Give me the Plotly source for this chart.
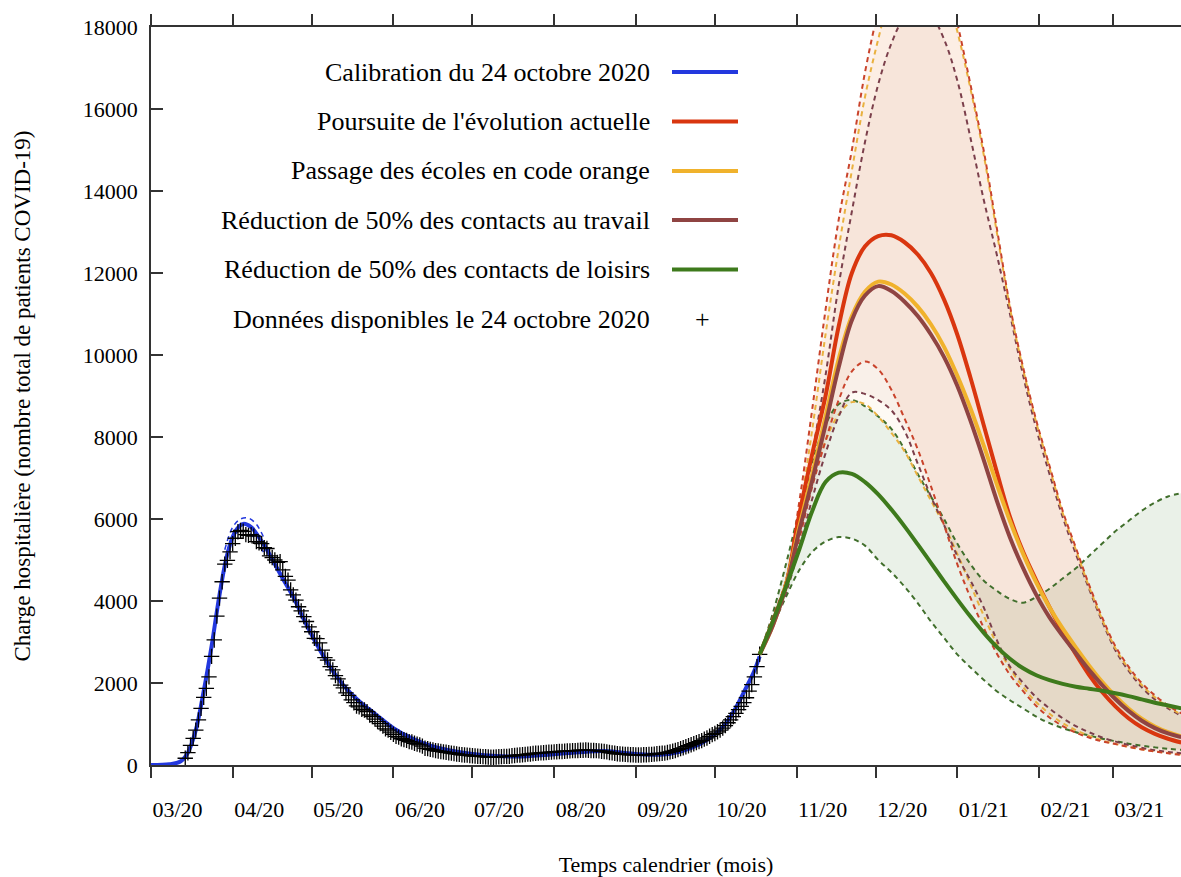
import pandas as pd
import plotly.graph_objects as go

# ---------------- data ----------------
# Observed hospital load (daily, from 2020-03-14)
obs_start = "2020-03-14"
obs_values = [
    165, 300, 480, 650, 850, 1100, 1380, 1650, 1870, 2150,
    2650, 3050, 3630, 4070, 4470, 4900, 4990, 5200, 5400, 5530,
    5690, 5720, 5700, 5620, 5600, 5620, 5580, 5450, 5420, 5400,
    5300, 5280, 5100, 5060, 5000, 4940, 4960, 4760, 4600, 4510,
    4270, 4150, 4020, 3860, 3760, 3620, 3500, 3370, 3250, 3090,
    3080, 2980, 2800, 2620, 2560, 2400, 2320, 2180, 2100, 1950,
    1880, 1760, 1700, 1590, 1520, 1440, 1420, 1360, 1340, 1300,
    1220, 1180, 1120, 1060, 1010, 950, 880, 850, 800, 750,
    700, 680, 640, 620, 600, 570, 560, 530, 510, 490,
    460, 410, 400, 380, 370, 350, 340, 330, 320, 310,
    300, 290, 280, 270, 260, 250, 245, 240, 230, 225,
    220, 215, 210, 205, 200, 195, 190, 190, 195, 200,
    205, 210, 210, 215, 225, 230, 240, 245, 250, 255,
    265, 270, 280, 285, 290, 295, 300, 305, 310, 315,
    320, 325, 330, 330, 335, 340, 345, 350, 350, 355,
    360, 360, 365, 360, 355, 355, 350, 345, 335, 330,
    320, 305, 295, 285, 275, 270, 265, 260, 255, 250,
    250, 245, 245, 245, 250, 250, 255, 260, 265, 275,
    280, 285,
    290, 305, 320, 335, 355, 375, 400, 420, 445, 470,
    495, 520, 545, 570, 595, 630, 660, 700, 740, 770,
    810, 850, 900, 960, 1030, 1100, 1180, 1260, 1350, 1430,
    1520, 1640, 1800, 1960, 2150, 2400, 2700,
]

# Calibrated model (blue)
calib_dates = ["2020-03-01", "2020-03-08", "2020-03-12", "2020-03-15", "2020-03-18",
               "2020-03-21", "2020-03-24", "2020-03-27", "2020-03-30", "2020-04-02",
               "2020-04-05", "2020-04-08", "2020-04-11", "2020-04-14", "2020-04-17",
               "2020-04-20", "2020-04-24", "2020-04-28", "2020-05-02", "2020-05-06",
               "2020-05-10", "2020-05-15", "2020-05-20", "2020-05-25", "2020-06-01",
               "2020-06-08", "2020-06-15", "2020-06-22", "2020-07-01", "2020-07-10",
               "2020-07-20", "2020-08-01", "2020-08-10", "2020-08-20", "2020-09-01",
               "2020-09-10", "2020-09-18", "2020-09-25", "2020-10-01", "2020-10-05",
               "2020-10-09", "2020-10-13", "2020-10-16", "2020-10-18"]
calib_values = [0, 20, 80, 300, 850,
                1800, 2900, 4150, 5150, 5700,
                5880, 5800, 5550, 5250, 4900,
                4550, 4100, 3550, 3050, 2600,
                2200, 1800, 1500, 1250, 900,
                650, 470, 360, 270, 220,
                210, 260, 310, 340, 270,
                250, 330, 500, 750, 1000,
                1400, 1900, 2300, 2650]
calib_band_dates = ["2020-03-29", "2020-04-01", "2020-04-04", "2020-04-07", "2020-04-10", "2020-04-13"]
calib_hi = [5250, 5800, 6000, 6020, 5870, 5520]
calib_lo = [5000, 5550, 5720, 5660, 5480, 5150]

# Scenario projections (every 5 days from 2020-10-18)
fc_start = "2020-10-18"
red_mid = [2700, 3500, 4400, 6100, 7600, 9000, 10700, 12000, 12650, 12900,
           12920, 12750, 12450, 12000, 11350, 10500, 9450, 8300, 7150, 6050,
           5200, 4500, 3850, 3250, 2700, 2200, 1780, 1430, 1140, 920,
           760, 640, 550]
red_hi = [2700, 3600, 4500, 6400, 8700, 11100, 13300, 15000, 16900, 18400,
          19600, 20300, 20500, 20200, 19400, 18100, 16600, 15000, 13100, 11200,
          9700, 8400, 7300, 6200, 5300, 4400, 3600, 2900, 2400, 2000,
          1700, 1450, 1260]
red_lo = [2700, 3400, 4300, 5500, 6800, 7900, 8900, 9600, 9840, 9650,
          9150, 8450, 7700, 6800, 5850, 4900, 4080, 3350, 2720, 2200,
          1800, 1440, 1160, 950, 790, 670, 580, 510, 440, 380,
          330, 285, 245]
yellow_mid = [2700, 3400, 4400, 5800, 7100, 8500, 9900, 10950, 11550, 11790,
              11720, 11500, 11180, 10750, 10200, 9500, 8700, 7800, 6850, 5950,
              5150, 4450, 3850, 3330, 2870, 2430, 2030, 1680, 1380, 1130,
              940, 800, 700]
yellow_hi = [2700, 3550, 4400, 6100, 8200, 10500, 12600, 14500, 16300, 17700,
             18900, 19700, 20000, 19800, 19100, 17900, 16500, 14900, 13000, 11150,
             9650, 8350, 7250, 6150, 5250, 4350, 3550, 2850, 2350, 1950,
             1650, 1420, 1230]
yellow_lo = [2700, 3500, 4500, 5700, 6900, 7900, 8550, 8850, 8800, 8500,
             8100, 7650, 7050, 6450, 5850, 5150, 4400, 3650, 2950, 2350,
             1900, 1530, 1250, 1020, 850, 710, 600, 515, 445, 385,
             335, 295, 255]
brown_mid = [2700, 3400, 4350, 5700, 6950, 8300, 9700, 10850, 11450, 11680,
             11560, 11300, 10950, 10500, 9950, 9250, 8400, 7450, 6450, 5550,
             4800, 4150, 3600, 3150, 2730, 2320, 1950, 1610, 1320, 1080,
             900, 770, 680]
brown_hi = [2700, 3400, 4300, 5700, 7600, 9500, 11700, 13500, 15200, 16600,
            17600, 18250, 18500, 18300, 17700, 16700, 15300, 13800, 12450, 11000,
            9500, 8200, 7100, 6050, 5150, 4300, 3500, 2800, 2300, 1900,
            1600, 1380, 1200]
brown_lo = [2700, 3400, 4200, 5300, 6500, 7600, 8500, 9080, 9050, 8900,
            8650, 8150, 7350, 6550, 5850, 5100, 4500, 3850, 3050, 2400,
            2000, 1650, 1380, 1140, 950, 800, 670, 570, 490, 420,
            360, 320, 285]
green_mid = [2700, 3500, 4350, 5250, 6200, 6900, 7130, 7100, 6900, 6600,
             6230, 5820, 5380, 4930, 4480, 4040, 3620, 3230, 2880, 2590,
             2360, 2190, 2070, 1980, 1910, 1860, 1810, 1750, 1680, 1600,
             1520, 1450, 1380]
green_hi = [2700, 3700, 4900, 6200, 7400, 8300, 8800, 8900, 8750, 8500,
            8200, 7700, 7100, 6550, 6000, 5400, 4900, 4500, 4250, 4050,
            3960, 4100, 4300, 4550, 4800, 5100, 5400, 5700, 5950, 6200,
            6400, 6550, 6630]
green_lo = [2700, 3400, 4100, 4750, 5200, 5450, 5560, 5520, 5350, 5000,
            4700, 4350, 3950, 3500, 3100, 2700, 2380, 2080, 1800, 1580,
            1380, 1180, 1020, 900, 800, 720, 640, 580, 520, 470,
            430, 395, 370]

legend_labels = ["Calibration du 24 octobre 2020",
                 "Poursuite de l'évolution actuelle",
                 "Passage des écoles en code orange",
                 "Réduction de 50% des contacts au travail",
                 "Réduction de 50% des contacts de loisirs",
                 "Données disponibles le 24 octobre 2020"]
x_title = "Temps calendrier (mois)"
y_title = "Charge hospitalière (nombre total de patients COVID-19)"

# ---------------- styling ----------------
FONT = "Liberation Serif, Times New Roman, serif"
COL_BLUE = "#2338de"
COL_RED = "#d9360f"
COL_YELLOW = "#f0b22c"
COL_BROWN = "#8f4442"
COL_GREEN = "#3e7a1c"
DASH_RED = "#c9432b"
DASH_YELLOW = "#e9b13f"
DASH_BROWN = "#7b3f4b"
DASH_GREEN = "#416f2c"
FILL_RED = "rgba(225,100,45,0.08)"
FILL_YELLOW = "rgba(240,165,60,0.06)"
FILL_BROWN = "rgba(170,90,60,0.06)"
FILL_GREEN = "rgba(85,140,65,0.12)"
DASH = "5px,4px"

obs_dates = pd.date_range(obs_start, periods=len(obs_values), freq="D")
fc_dates = pd.date_range(fc_start, periods=len(red_mid), freq="5D")

fig = go.Figure()

# bands (fills)
for lo, hi, fc in [(green_lo, green_hi, FILL_GREEN),
                   (red_lo, red_hi, FILL_RED),
                   (yellow_lo, yellow_hi, FILL_YELLOW),
                   (brown_lo, brown_hi, FILL_BROWN)]:
    fig.add_trace(go.Scatter(x=fc_dates, y=lo, mode="lines", line=dict(width=0, shape="spline"),
                             hoverinfo="skip", showlegend=False))
    fig.add_trace(go.Scatter(x=fc_dates, y=hi, mode="lines", line=dict(width=0, shape="spline"),
                             fill="tonexty", fillcolor=fc, hoverinfo="skip", showlegend=False))

# dashed bounds
for arr, col in [(green_lo, DASH_GREEN), (green_hi, DASH_GREEN),
                 (yellow_lo, DASH_YELLOW), (brown_lo, DASH_BROWN), (red_lo, DASH_RED),
                 (brown_hi, DASH_BROWN), (yellow_hi, DASH_YELLOW), (red_hi, DASH_RED)]:
    fig.add_trace(go.Scatter(x=fc_dates, y=arr, mode="lines",
                             line=dict(color=col, width=2, dash=DASH, shape="spline"),
                             showlegend=False))

# calibration
for arr in (calib_hi, calib_lo):
    fig.add_trace(go.Scatter(x=calib_band_dates, y=arr, mode="lines",
                             line=dict(color=COL_BLUE, width=1.5, dash=DASH, shape="spline"),
                             showlegend=False))
fig.add_trace(go.Scatter(x=calib_dates, y=calib_values, mode="lines", name=legend_labels[0],
                         line=dict(color=COL_BLUE, width=4, shape="spline"), showlegend=False))

# observations
fig.add_trace(go.Scatter(x=obs_dates, y=obs_values, mode="markers", name=legend_labels[5],
                         marker=dict(symbol="cross-thin", size=11, color="black",
                                     line=dict(color="black", width=1.3)),
                         showlegend=False))

# scenario central curves
for arr, col, name in [(red_mid, COL_RED, legend_labels[1]),
                       (yellow_mid, COL_YELLOW, legend_labels[2]),
                       (brown_mid, COL_BROWN, legend_labels[3]),
                       (green_mid, COL_GREEN, legend_labels[4])]:
    fig.add_trace(go.Scatter(x=fc_dates, y=arr, mode="lines", name=name,
                             line=dict(color=col, width=4, shape="spline"), showlegend=False))

# ---------------- layout ----------------
PL, PR, PT, PB = 151, 1181, 27, 765


def px_x(px):
    return (px - PL) / (PR - PL)


def px_y(py):
    return (PB - py) / (PB - PT)


legend_rows_py = [72, 121.5, 171, 220, 269.5, 319]
legend_colors = [COL_BLUE, COL_RED, COL_YELLOW, COL_BROWN, COL_GREEN, None]
annotations = []
shapes = []
for lab, col, py in zip(legend_labels, legend_colors, legend_rows_py):
    annotations.append(dict(x=px_x(652), y=px_y(py), xref="paper", yref="paper",
                            text=lab, showarrow=False, xanchor="right", yanchor="middle",
                            font=dict(family=FONT, size=26, color="black")))
    if col is not None:
        shapes.append(dict(type="line", xref="paper", yref="paper",
                           x0=px_x(672), x1=px_x(738), y0=px_y(py), y1=px_y(py),
                           line=dict(color=col, width=4)))
    else:
        annotations.append(dict(x=px_x(702), y=px_y(py), xref="paper", yref="paper",
                                text="+", showarrow=False, xanchor="center", yanchor="middle",
                                font=dict(family=FONT, size=26, color="black")))

fig.update_layout(
    width=1181, height=877,
    margin=dict(l=PL, r=1181 - PR, t=PT, b=877 - PB),
    paper_bgcolor="white", plot_bgcolor="white",
    font=dict(family=FONT, size=22, color="black"),
    showlegend=False,
    annotations=annotations,
    shapes=shapes,
)
fig.update_xaxes(
    type="date", range=["2020-03-01", "2021-03-26 22:00"],
    tick0="2020-03-01", dtick="M1", tickformat="%m/%y",
    ticks="outside", ticklen=11, tickwidth=1.5, tickcolor="#333",
    ticklabelposition="outside right", ticklabelstandoff=24,
    showline=True, linecolor="#333", linewidth=1.5, mirror="ticks",
    showgrid=False, zeroline=False,
    tickfont=dict(family=FONT, size=22, color="black"),
    title=dict(text=x_title, font=dict(family=FONT, size=22, color="black"), standoff=36),
)
fig.update_yaxes(
    range=[0, 18000], dtick=2000, tickformat="d",
    ticks="inside", ticklen=12, tickwidth=1.5, tickcolor="#333",
    ticklabelstandoff=7,
    showline=True, linecolor="#333", linewidth=1.5, mirror=False,
    showgrid=False, zeroline=False,
    tickfont=dict(family=FONT, size=22, color="black"),
    title=dict(text=y_title, font=dict(family=FONT, size=23, color="black"), standoff=46),
)

fig.write_html("out.html", config={"displayModeBar": False},
               post_script="document.body.style.margin='0px';")
